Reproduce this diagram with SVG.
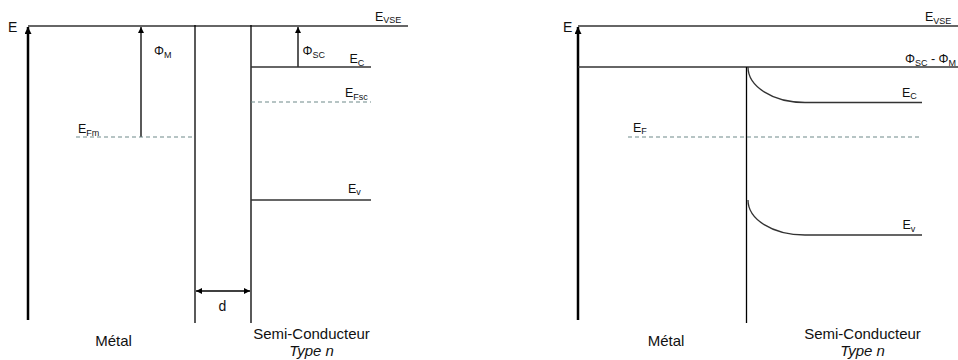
<svg xmlns="http://www.w3.org/2000/svg" width="958" height="360" viewBox="0 0 958 360">
<defs>
<marker id="ah" viewBox="0 0 10 10" refX="10" refY="5" markerWidth="8" markerHeight="7" markerUnits="userSpaceOnUse" orient="auto-start-reverse">
<path d="M0,0 L10,5 L0,10 z" fill="#000"/>
</marker>
<marker id="ahs" viewBox="0 0 10 10" refX="10" refY="5" markerWidth="8" markerHeight="6" markerUnits="userSpaceOnUse" orient="auto-start-reverse">
<path d="M0,0 L10,5 L0,10 z" fill="#000"/>
</marker>
</defs>
<style>
.t{font-family:"Liberation Sans",Arial,sans-serif;fill:#111;}
.big{font-size:15px;}
.lab{font-size:12.5px;}
.sub{font-size:9px;}
.axis{stroke:#000;stroke-width:2.5;fill:none;}
.lvl{stroke:#333;stroke-width:1.3;fill:none;}
.vert{stroke:#000;stroke-width:1.3;fill:none;}
.dash{stroke:#6f8a8a;stroke-width:1.2;stroke-dasharray:4,3;fill:none;}
.arr{stroke:#000;stroke-width:1.3;fill:none;}
</style>
<rect width="958" height="360" fill="#fff"/>

<g id="connectors">
<!-- Left diagram -->
<line class="axis" x1="28" y1="320" x2="28" y2="27" marker-end="url(#ah)"/>
<line class="lvl" x1="28" y1="26" x2="408" y2="26"/>
<line class="vert" x1="195" y1="25" x2="195" y2="323"/>
<line class="vert" x1="251" y1="25" x2="251" y2="323"/>
<line class="arr" x1="141" y1="137" x2="141" y2="27" marker-end="url(#ahs)"/>
<line class="dash" x1="76" y1="137" x2="195" y2="137"/>
<line class="arr" x1="298" y1="67" x2="298" y2="27" marker-end="url(#ahs)"/>
<line class="lvl" x1="251" y1="67" x2="371" y2="67"/>
<line class="dash" x1="251" y1="102" x2="371" y2="102"/>
<line class="lvl" x1="251" y1="200" x2="371" y2="200"/>
<line class="arr" x1="196" y1="291" x2="250" y2="291" marker-start="url(#ahs)" marker-end="url(#ahs)"/>

<!-- Right diagram -->
<line class="axis" x1="578" y1="320" x2="578" y2="27" marker-end="url(#ah)"/>
<line class="lvl" x1="578" y1="26" x2="958" y2="26"/>
<line class="lvl" x1="578" y1="67" x2="958" y2="67"/>
<line class="vert" x1="746.5" y1="67" x2="746.5" y2="323"/>
<path class="lvl" d="M748,67 C748,86 772,102.5 805,102.5 L922,102.5"/>
<path class="lvl" d="M748,200 C748,219 772,235 805,235 L922,235"/>
<line class="dash" x1="628" y1="137" x2="922" y2="137"/>
</g>

<g id="left-labels">
<text class="t big" x="8" y="32" style="font-size:14px">E</text>
<text class="t lab" x="375" y="20.5">E<tspan class="sub" dy="2.5">VSE</tspan></text>
<text class="t lab" x="154" y="55">Φ<tspan class="sub" dy="2.5">M</tspan></text>
<text class="t lab" x="302.5" y="55">Φ<tspan class="sub" dy="2.5">SC</tspan></text>
<text class="t lab" x="349.5" y="63">E<tspan class="sub" dy="2.5">C</tspan></text>
<text class="t lab" x="345" y="97">E<tspan class="sub" dy="2.5">Fsc</tspan></text>
<text class="t lab" x="78" y="133">E<tspan class="sub" dy="2.5">Fm</tspan></text>
<text class="t lab" x="348" y="192.5">E<tspan class="sub" dy="2.5">v</tspan></text>
<text class="t big" x="222.5" y="310.5" text-anchor="middle" style="font-size:14px">d</text>
<text class="t big" x="113.5" y="346" text-anchor="middle">Métal</text>
<text class="t big" x="311.5" y="338.5" text-anchor="middle">Semi-Conducteur</text>
<text class="t big" x="311.5" y="356" text-anchor="middle" font-style="italic">Type n</text>
</g>

<g id="right-labels">
<text class="t big" x="563" y="32" style="font-size:14px">E</text>
<text class="t lab" x="925" y="21">E<tspan class="sub" dy="2.5">VSE</tspan></text>
<text class="t lab" x="905" y="63">Φ<tspan class="sub" dy="2.5">SC</tspan><tspan dy="-2.5"> - Φ</tspan><tspan class="sub" dy="2.5">M</tspan></text>
<text class="t lab" x="902" y="96.5">E<tspan class="sub" dy="2.5">C</tspan></text>
<text class="t lab" x="633" y="131.5">E<tspan class="sub" dy="2.5">F</tspan></text>
<text class="t lab" x="902.5" y="229">E<tspan class="sub" dy="2.5">v</tspan></text>
<text class="t big" x="666" y="346" text-anchor="middle">Métal</text>
<text class="t big" x="862.5" y="338.5" text-anchor="middle">Semi-Conducteur</text>
<text class="t big" x="862.5" y="356" text-anchor="middle" font-style="italic">Type n</text>
</g>
</svg>
